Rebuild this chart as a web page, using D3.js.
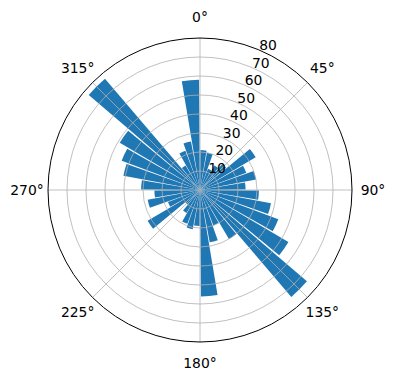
<!DOCTYPE html>
<html>
<head>
<meta charset="utf-8">
<script src="https://cdn.jsdelivr.net/npm/d3@7"></script>
<style>
  html, body { margin: 0; padding: 0; background: #fff; }
  svg text { font-family: "DejaVu Sans", sans-serif; font-size: 13.9px; fill: #000; }
</style>
</head>
<body>
<div id="chart"></div>
<script>
// bins of 10 degrees, clockwise from north
const binStarts = d3.range(0, 360, 10);
const counts = [21, 20, 12, 15, 18, 34, 26, 30, 24, 31, 38, 44, 54, 74, 30, 20, 28, 56,
                19, 21, 19, 14, 10, 32, 18, 28, 24, 31, 41, 44, 49, 77, 15, 22, 26, 58];
const radialTicks = [10, 20, 30, 40, 50, 60, 70, 80];
const angleTicks = [0, 45, 90, 135, 180, 225, 270, 315];

const width = 396, height = 380;
const cx = 200, cy = 190, outer = 152;

const svg = d3.select('#chart').append('svg')
  .attr('width', width)
  .attr('height', height);

const g = svg.append('g').attr('transform', `translate(${cx},${cy})`);

const ang = d3.scaleLinear().domain([0, 360]).range([0, 2 * Math.PI]);
const rad = d3.scaleLinear().domain([0, 80]).range([0, outer]);

const data = binStarts.map((s, i) => ({ start: s, value: counts[i] }));

// Bars
const arc = d3.arc()
  .innerRadius(0)
  .outerRadius(d => rad(d.value))
  .startAngle(d => ang(d.start + 0.5))
  .endAngle(d => ang(d.start + 9.5));

g.selectAll('.bar')
  .data(data)
  .enter()
  .append('path')
  .attr('class', 'bar')
  .attr('d', arc)
  .attr('fill', '#1f77b4');

// Grid (drawn over the bars like matplotlib)
g.selectAll('.rgrid')
  .data(radialTicks.slice(0, -1))
  .enter()
  .append('circle')
  .attr('r', d => rad(d))
  .attr('fill', 'none')
  .attr('stroke', '#b0b0b0')
  .attr('stroke-width', 0.8);

g.selectAll('.tgrid')
  .data(angleTicks)
  .enter()
  .append('line')
  .attr('x1', 0).attr('y1', 0)
  .attr('x2', d => outer * Math.sin(ang(d)))
  .attr('y2', d => -outer * Math.cos(ang(d)))
  .attr('stroke', '#b0b0b0')
  .attr('stroke-width', 0.8);

// Outer spine
g.append('circle')
  .attr('r', rad(80))
  .attr('fill', 'none')
  .attr('stroke', '#000')
  .attr('stroke-width', 1);

// Angle labels
const labelR = 173;
g.selectAll('.tlabel')
  .data(angleTicks)
  .enter()
  .append('text')
  .attr('x', d => labelR * Math.sin(ang(d)))
  .attr('y', d => -labelR * Math.cos(ang(d)))
  .attr('text-anchor', 'middle')
  .attr('dominant-baseline', 'central')
  .text(d => d + '°');

// Radial labels along 22.5 degrees
const rlabelAngle = ang(22.5);
g.selectAll('.rlabel')
  .data(radialTicks)
  .enter()
  .append('text')
  .attr('x', d => rad(d) * Math.sin(rlabelAngle) + 1)
  .attr('y', d => -rad(d) * Math.cos(rlabelAngle) + 0.5)
  .attr('text-anchor', 'start')
  .text(d => d);
</script>
</body>
</html>
